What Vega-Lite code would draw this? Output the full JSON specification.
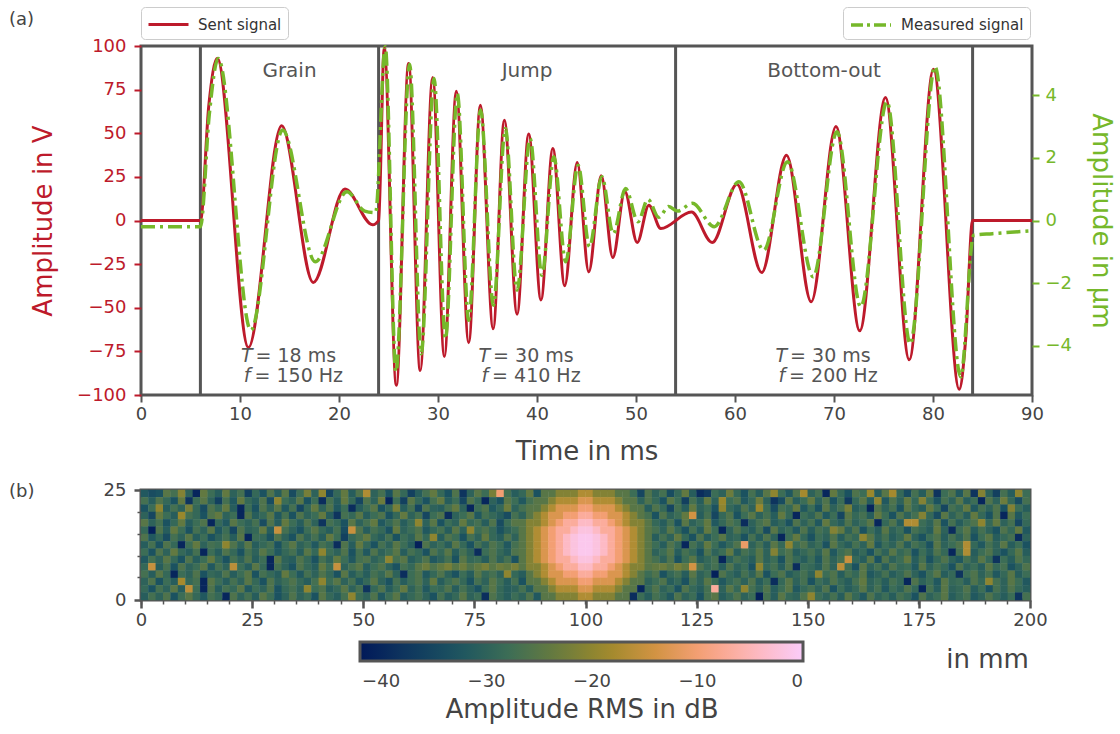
{
"$schema":"https://vega.github.io/schema/vega-lite/v6.json",
"background":"white",
"padding":{"left":7,"top":5,"right":5,"bottom":5},
"bounds":"flush",
"spacing":95,
"config":{
"font":"DejaVu Sans",
"view":{"stroke":"#555555","strokeWidth":3},
"axis":{"domain":false,"grid":false,"labelFlush":false,"labelFontSize":18,"labelColor":"#444444","titleFontSize":26,"titleFontWeight":"normal","titleColor":"#444444","tickColor":"#555555","tickWidth":2,"tickSize":7,"labelPadding":4},
"title":{"fontWeight":"normal"}
},
"datasets":{
"sent":[{"t":0,"V":0},{"t":6,"V":0},{"t":6.85,"V":66},{"t":7.7,"V":93},{"t":10.85,"V":-72.8},{"t":14.2,"V":54.3},{"t":17.4,"V":-35.5},{"t":20.6,"V":18},{"t":23.4,"V":-2.5},{"t":24,"V":0},{"t":24.57,"V":99},{"t":25.79,"V":-94.4},{"t":27.03,"V":90},{"t":28.2,"V":-86},{"t":29.46,"V":82},{"t":30.64,"V":-78},{"t":31.85,"V":74},{"t":33.1,"V":-70},{"t":34.28,"V":66},{"t":35.57,"V":-62},{"t":36.7,"V":57.5},{"t":37.99,"V":-53.7},{"t":39.16,"V":49.5},{"t":40.4,"V":-45.5},{"t":41.6,"V":41.3},{"t":42.8,"V":-37.4},{"t":44.06,"V":33.2},{"t":45.23,"V":-29.4},{"t":46.49,"V":25.6},{"t":47.66,"V":-21.2},{"t":48.87,"V":16.6},{"t":50.12,"V":-12.6},{"t":51.3,"V":8.8},{"t":52.5,"V":-4.6},{"t":55.6,"V":4.8},{"t":57.7,"V":-12.6},{"t":60.2,"V":20.8},{"t":62.7,"V":-29.8},{"t":65.2,"V":37.4},{"t":67.7,"V":-46.6},{"t":70.2,"V":53.9},{"t":72.6,"V":-63.2},{"t":75.2,"V":70.5},{"t":77.6,"V":-79.8},{"t":80.05,"V":86.7},{"t":82.65,"V":-96.7},{"t":83.3,"V":-68},{"t":84,"V":0},{"t":90,"V":0}],
"meas":[{"t":0,"u":-0.2},{"t":6,"u":-0.2},{"t":6.9,"u":3.4},{"t":7.8,"u":5.18},{"t":11.1,"u":-3.51},{"t":14.3,"u":2.89},{"t":17.6,"u":-1.32},{"t":20.8,"u":0.92},{"t":22.6,"u":0.3},{"t":23.7,"u":0.25},{"t":24.67,"u":5.56},{"t":25.75,"u":-4.84},{"t":27.13,"u":5.0},{"t":28.3,"u":-4.26},{"t":29.6,"u":4.54},{"t":30.75,"u":-3.78},{"t":31.95,"u":4.06},{"t":33.1,"u":-3.19},{"t":34.3,"u":3.53},{"t":35.6,"u":-2.71},{"t":36.8,"u":2.94},{"t":37.99,"u":-2.23},{"t":39.3,"u":2.62},{"t":40.5,"u":-1.75},{"t":41.7,"u":2.04},{"t":42.9,"u":-1.32},{"t":44.15,"u":1.77},{"t":45.3,"u":-0.84},{"t":46.55,"u":1.4},{"t":47.7,"u":-0.42},{"t":48.95,"u":1.02},{"t":50.2,"u":-0.04},{"t":51.2,"u":0.68},{"t":52.3,"u":0.1},{"t":53.3,"u":0.45},{"t":54.2,"u":0.3},{"t":55.7,"u":0.55},{"t":57.9,"u":-0.2},{"t":60.4,"u":1.24},{"t":62.9,"u":-0.95},{"t":65.3,"u":1.88},{"t":67.9,"u":-1.8},{"t":70.3,"u":2.84},{"t":72.7,"u":-2.76},{"t":75.35,"u":3.8},{"t":77.7,"u":-3.94},{"t":80.2,"u":4.92},{"t":82.8,"u":-5.0},{"t":84.1,"u":-0.47},{"t":86,"u":-0.42},{"t":90,"u":-0.33}],
"bounds":[{"t":6},{"t":24},{"t":54},{"t":84}],
"segs":[{"t":15,"label":"Grain","Tv":"= 18 ms","fv":"= 150 Hz"},{"t":39,"label":"Jump","Tv":"= 30 ms","fv":"= 410 Hz"},{"t":69,"label":"Bottom-out","Tv":"= 30 ms","fv":"= 200 Hz"}],
"cells":[
{"x":0,"y":14,"v":-32},{"x":1,"y":14,"v":-34},{"x":2,"y":14,"v":-33},{"x":3,"y":14,"v":-25},{"x":4,"y":14,"v":-27},{"x":5,"y":14,"v":-21},{"x":6,"y":14,"v":-30},{"x":7,"y":14,"v":-40},{"x":8,"y":14,"v":-24},{"x":9,"y":14,"v":-28},
{"x":10,"y":14,"v":-31},{"x":11,"y":14,"v":-24},{"x":12,"y":14,"v":-30},{"x":13,"y":14,"v":-27},{"x":14,"y":14,"v":-36},{"x":15,"y":14,"v":-29},{"x":16,"y":14,"v":-33},{"x":17,"y":14,"v":-26},{"x":18,"y":14,"v":-31},{"x":19,"y":14,"v":-25},
{"x":20,"y":14,"v":-34},{"x":21,"y":14,"v":-28},{"x":22,"y":14,"v":-22},{"x":23,"y":14,"v":-30},{"x":24,"y":14,"v":-20},{"x":25,"y":14,"v":-35},{"x":26,"y":14,"v":-29},{"x":27,"y":14,"v":-24},{"x":28,"y":14,"v":-31},{"x":29,"y":14,"v":-26},
{"x":30,"y":14,"v":-17},{"x":31,"y":14,"v":-30},{"x":32,"y":14,"v":-27},{"x":33,"y":14,"v":-33},{"x":34,"y":14,"v":-25},{"x":35,"y":14,"v":-29},{"x":36,"y":14,"v":-36},{"x":37,"y":14,"v":-31},{"x":38,"y":14,"v":-27},{"x":39,"y":14,"v":-24},
{"x":40,"y":14,"v":-29},{"x":41,"y":14,"v":-33},{"x":42,"y":14,"v":-26},{"x":43,"y":14,"v":-38},{"x":44,"y":14,"v":-30},{"x":45,"y":14,"v":-25},{"x":46,"y":14,"v":-28},{"x":47,"y":14,"v":-22},{"x":48,"y":14,"v":-10},{"x":49,"y":14,"v":-27},
{"x":50,"y":14,"v":-31},{"x":51,"y":14,"v":-29},{"x":52,"y":14,"v":-24},{"x":53,"y":14,"v":-33},{"x":54,"y":14,"v":-25},{"x":55,"y":14,"v":-25},{"x":56,"y":14,"v":-21},{"x":57,"y":14,"v":-21},{"x":58,"y":14,"v":-21},{"x":59,"y":14,"v":-17},
{"x":60,"y":14,"v":-17},{"x":61,"y":14,"v":-21},{"x":62,"y":14,"v":-21},{"x":63,"y":14,"v":-21},{"x":64,"y":14,"v":-25},{"x":65,"y":14,"v":-25},{"x":66,"y":14,"v":-28},{"x":67,"y":14,"v":-35},{"x":68,"y":14,"v":-26},{"x":69,"y":14,"v":-30},
{"x":70,"y":14,"v":-27},{"x":71,"y":14,"v":-34},{"x":72,"y":14,"v":-29},{"x":73,"y":14,"v":-24},{"x":74,"y":14,"v":-31},{"x":75,"y":14,"v":-39},{"x":76,"y":14,"v":-37},{"x":77,"y":14,"v":-28},{"x":78,"y":14,"v":-30},{"x":79,"y":14,"v":-23},
{"x":80,"y":14,"v":-29},{"x":81,"y":14,"v":-33},{"x":82,"y":14,"v":-27},{"x":83,"y":14,"v":-31},{"x":84,"y":14,"v":-25},{"x":85,"y":14,"v":-20},{"x":86,"y":14,"v":-28},{"x":87,"y":14,"v":-32},{"x":88,"y":14,"v":-26},{"x":89,"y":14,"v":-18},
{"x":90,"y":14,"v":-30},{"x":91,"y":14,"v":-27},{"x":92,"y":14,"v":-40},{"x":93,"y":14,"v":-24},{"x":94,"y":14,"v":-29},{"x":95,"y":14,"v":-33},{"x":96,"y":14,"v":-26},{"x":97,"y":14,"v":-28},{"x":98,"y":14,"v":-19},{"x":99,"y":14,"v":-31},
{"x":100,"y":14,"v":-25},{"x":101,"y":14,"v":-18},{"x":102,"y":14,"v":-29},{"x":103,"y":14,"v":-34},{"x":104,"y":14,"v":-27},{"x":105,"y":14,"v":-31},{"x":106,"y":14,"v":-24},{"x":107,"y":14,"v":-38},{"x":108,"y":14,"v":-28},{"x":109,"y":14,"v":-26},
{"x":110,"y":14,"v":-32},{"x":111,"y":14,"v":-25},{"x":112,"y":14,"v":-38},{"x":113,"y":14,"v":-21},{"x":114,"y":14,"v":-30},{"x":115,"y":14,"v":-36},{"x":116,"y":14,"v":-27},{"x":117,"y":14,"v":-31},{"x":118,"y":14,"v":-20},{"x":119,"y":14,"v":-28},
{"x":0,"y":13,"v":-27},{"x":1,"y":13,"v":-31},{"x":2,"y":13,"v":-26},{"x":3,"y":13,"v":-29},{"x":4,"y":13,"v":-33},{"x":5,"y":13,"v":-24},{"x":6,"y":13,"v":-38},{"x":7,"y":13,"v":-28},{"x":8,"y":13,"v":-25},{"x":9,"y":13,"v":-30},
{"x":10,"y":13,"v":-36},{"x":11,"y":13,"v":-27},{"x":12,"y":13,"v":-32},{"x":13,"y":13,"v":-24},{"x":14,"y":13,"v":-29},{"x":15,"y":13,"v":-31},{"x":16,"y":13,"v":-26},{"x":17,"y":13,"v":-34},{"x":18,"y":13,"v":-20},{"x":19,"y":13,"v":-28},
{"x":20,"y":13,"v":-30},{"x":21,"y":13,"v":-25},{"x":22,"y":13,"v":-33},{"x":23,"y":13,"v":-28},{"x":24,"y":13,"v":-39},{"x":25,"y":13,"v":-27},{"x":26,"y":13,"v":-31},{"x":27,"y":13,"v":-24},{"x":28,"y":13,"v":-29},{"x":29,"y":13,"v":-35},
{"x":30,"y":13,"v":-26},{"x":31,"y":13,"v":-30},{"x":32,"y":13,"v":-23},{"x":33,"y":13,"v":-40},{"x":34,"y":13,"v":-28},{"x":35,"y":13,"v":-36},{"x":36,"y":13,"v":-25},{"x":37,"y":13,"v":-29},{"x":38,"y":13,"v":-33},{"x":39,"y":13,"v":-27},
{"x":40,"y":13,"v":-24},{"x":41,"y":13,"v":-31},{"x":42,"y":13,"v":-28},{"x":43,"y":13,"v":-35},{"x":44,"y":13,"v":-26},{"x":45,"y":13,"v":-29},{"x":46,"y":13,"v":-40},{"x":47,"y":13,"v":-30},{"x":48,"y":13,"v":-33},{"x":49,"y":13,"v":-25},
{"x":50,"y":13,"v":-28},{"x":51,"y":13,"v":-32},{"x":52,"y":13,"v":-27},{"x":53,"y":13,"v":-25},{"x":54,"y":13,"v":-25},{"x":55,"y":13,"v":-21},{"x":56,"y":13,"v":-17},{"x":57,"y":13,"v":-17},{"x":58,"y":13,"v":-17},{"x":59,"y":13,"v":-13},
{"x":60,"y":13,"v":-13},{"x":61,"y":13,"v":-17},{"x":62,"y":13,"v":-17},{"x":63,"y":13,"v":-17},{"x":64,"y":13,"v":-21},{"x":65,"y":13,"v":-25},{"x":66,"y":13,"v":-25},{"x":67,"y":13,"v":-30},{"x":68,"y":13,"v":-26},{"x":69,"y":13,"v":-29},
{"x":70,"y":13,"v":-33},{"x":71,"y":13,"v":-25},{"x":72,"y":13,"v":-28},{"x":73,"y":13,"v":-36},{"x":74,"y":13,"v":-27},{"x":75,"y":13,"v":-31},{"x":76,"y":13,"v":-24},{"x":77,"y":13,"v":-30},{"x":78,"y":13,"v":-19},{"x":79,"y":13,"v":-28},
{"x":80,"y":13,"v":-26},{"x":81,"y":13,"v":-32},{"x":82,"y":13,"v":-29},{"x":83,"y":13,"v":-23},{"x":84,"y":13,"v":-30},{"x":85,"y":13,"v":-38},{"x":86,"y":13,"v":-34},{"x":87,"y":13,"v":-25},{"x":88,"y":13,"v":-31},{"x":89,"y":13,"v":-28},
{"x":90,"y":13,"v":-24},{"x":91,"y":13,"v":-30},{"x":92,"y":13,"v":-26},{"x":93,"y":13,"v":-33},{"x":94,"y":13,"v":-28},{"x":95,"y":13,"v":-37},{"x":96,"y":13,"v":-29},{"x":97,"y":13,"v":-25},{"x":98,"y":13,"v":-31},{"x":99,"y":13,"v":-20},
{"x":100,"y":13,"v":-32},{"x":101,"y":13,"v":-26},{"x":102,"y":13,"v":-30},{"x":103,"y":13,"v":-24},{"x":104,"y":13,"v":-29},{"x":105,"y":13,"v":-21},{"x":106,"y":13,"v":-28},{"x":107,"y":13,"v":-33},{"x":108,"y":13,"v":-27},{"x":109,"y":13,"v":-30},
{"x":110,"y":13,"v":-25},{"x":111,"y":13,"v":-31},{"x":112,"y":13,"v":-28},{"x":113,"y":13,"v":-40},{"x":114,"y":13,"v":-26},{"x":115,"y":13,"v":-30},{"x":116,"y":13,"v":-23},{"x":117,"y":13,"v":-29},{"x":118,"y":13,"v":-34},{"x":119,"y":13,"v":-27},
{"x":0,"y":12,"v":-33},{"x":1,"y":12,"v":-28},{"x":2,"y":12,"v":-20},{"x":3,"y":12,"v":-31},{"x":4,"y":12,"v":-27},{"x":5,"y":12,"v":-30},{"x":6,"y":12,"v":-22},{"x":7,"y":12,"v":-29},{"x":8,"y":12,"v":-34},{"x":9,"y":12,"v":-26},
{"x":10,"y":12,"v":-29},{"x":11,"y":12,"v":-24},{"x":12,"y":12,"v":-31},{"x":13,"y":12,"v":-40},{"x":14,"y":12,"v":-28},{"x":15,"y":12,"v":-33},{"x":16,"y":12,"v":-26},{"x":17,"y":12,"v":-30},{"x":18,"y":12,"v":-25},{"x":19,"y":12,"v":-32},
{"x":20,"y":12,"v":-27},{"x":21,"y":12,"v":-35},{"x":22,"y":12,"v":-29},{"x":23,"y":12,"v":-24},{"x":24,"y":12,"v":-30},{"x":25,"y":12,"v":-26},{"x":26,"y":12,"v":-32},{"x":27,"y":12,"v":-28},{"x":28,"y":12,"v":-39},{"x":29,"y":12,"v":-31},
{"x":30,"y":12,"v":-28},{"x":31,"y":12,"v":-25},{"x":32,"y":12,"v":-33},{"x":33,"y":12,"v":-29},{"x":34,"y":12,"v":-22},{"x":35,"y":12,"v":-31},{"x":36,"y":12,"v":-27},{"x":37,"y":12,"v":-35},{"x":38,"y":12,"v":-26},{"x":39,"y":12,"v":-30},
{"x":40,"y":12,"v":-31},{"x":41,"y":12,"v":-27},{"x":42,"y":12,"v":-24},{"x":43,"y":12,"v":-30},{"x":44,"y":12,"v":-40},{"x":45,"y":12,"v":-28},{"x":46,"y":12,"v":-26},{"x":47,"y":12,"v":-32},{"x":48,"y":12,"v":-29},{"x":49,"y":12,"v":-23},
{"x":50,"y":12,"v":-30},{"x":51,"y":12,"v":-27},{"x":52,"y":12,"v":-25},{"x":53,"y":12,"v":-25},{"x":54,"y":12,"v":-21},{"x":55,"y":12,"v":-17},{"x":56,"y":12,"v":-13},{"x":57,"y":12,"v":-13},{"x":58,"y":12,"v":-13},{"x":59,"y":12,"v":-10},
{"x":60,"y":12,"v":-10},{"x":61,"y":12,"v":-13},{"x":62,"y":12,"v":-13},{"x":63,"y":12,"v":-13},{"x":64,"y":12,"v":-17},{"x":65,"y":12,"v":-21},{"x":66,"y":12,"v":-25},{"x":67,"y":12,"v":-25},{"x":68,"y":12,"v":-31},{"x":69,"y":12,"v":-26},
{"x":70,"y":12,"v":-29},{"x":71,"y":12,"v":-35},{"x":72,"y":12,"v":-27},{"x":73,"y":12,"v":-31},{"x":74,"y":12,"v":-24},{"x":75,"y":12,"v":-30},{"x":76,"y":12,"v":-28},{"x":77,"y":12,"v":-33},{"x":78,"y":12,"v":-20},{"x":79,"y":12,"v":-29},
{"x":80,"y":12,"v":-31},{"x":81,"y":12,"v":-26},{"x":82,"y":12,"v":-30},{"x":83,"y":12,"v":-19},{"x":84,"y":12,"v":-28},{"x":85,"y":12,"v":-34},{"x":86,"y":12,"v":-27},{"x":87,"y":12,"v":-29},{"x":88,"y":12,"v":-24},{"x":89,"y":12,"v":-32},
{"x":90,"y":12,"v":-28},{"x":91,"y":12,"v":-33},{"x":92,"y":12,"v":-25},{"x":93,"y":12,"v":-30},{"x":94,"y":12,"v":-27},{"x":95,"y":12,"v":-22},{"x":96,"y":12,"v":-31},{"x":97,"y":12,"v":-29},{"x":98,"y":12,"v":-40},{"x":99,"y":12,"v":-26},
{"x":100,"y":12,"v":-30},{"x":101,"y":12,"v":-27},{"x":102,"y":12,"v":-33},{"x":103,"y":12,"v":-25},{"x":104,"y":12,"v":-29},{"x":105,"y":12,"v":-31},{"x":106,"y":12,"v":-24},{"x":107,"y":12,"v":-28},{"x":108,"y":12,"v":-35},{"x":109,"y":12,"v":-27},
{"x":110,"y":12,"v":-29},{"x":111,"y":12,"v":-24},{"x":112,"y":12,"v":-32},{"x":113,"y":12,"v":-27},{"x":114,"y":12,"v":-30},{"x":115,"y":12,"v":-26},{"x":116,"y":12,"v":-33},{"x":117,"y":12,"v":-21},{"x":118,"y":12,"v":-28},{"x":119,"y":12,"v":-31},
{"x":0,"y":11,"v":-30},{"x":1,"y":11,"v":-35},{"x":2,"y":11,"v":-24},{"x":3,"y":11,"v":-28},{"x":4,"y":11,"v":-31},{"x":5,"y":11,"v":-19},{"x":6,"y":11,"v":-27},{"x":7,"y":11,"v":-29},{"x":8,"y":11,"v":-33},{"x":9,"y":11,"v":-26},
{"x":10,"y":11,"v":-24},{"x":11,"y":11,"v":-30},{"x":12,"y":11,"v":-28},{"x":13,"y":11,"v":-40},{"x":14,"y":11,"v":-26},{"x":15,"y":11,"v":-31},{"x":16,"y":11,"v":-29},{"x":17,"y":11,"v":-25},{"x":18,"y":11,"v":-32},{"x":19,"y":11,"v":-27},
{"x":20,"y":11,"v":-33},{"x":21,"y":11,"v":-26},{"x":22,"y":11,"v":-30},{"x":23,"y":11,"v":-28},{"x":24,"y":11,"v":-24},{"x":25,"y":11,"v":-31},{"x":26,"y":11,"v":-38},{"x":27,"y":11,"v":-27},{"x":28,"y":11,"v":-29},{"x":29,"y":11,"v":-25},
{"x":30,"y":11,"v":-31},{"x":31,"y":11,"v":-28},{"x":32,"y":11,"v":-26},{"x":33,"y":11,"v":-33},{"x":34,"y":11,"v":-29},{"x":35,"y":11,"v":-24},{"x":36,"y":11,"v":-30},{"x":37,"y":11,"v":-27},{"x":38,"y":11,"v":-35},{"x":39,"y":11,"v":-28},
{"x":40,"y":11,"v":-26},{"x":41,"y":11,"v":-39},{"x":42,"y":11,"v":-30},{"x":43,"y":11,"v":-28},{"x":44,"y":11,"v":-25},{"x":45,"y":11,"v":-32},{"x":46,"y":11,"v":-27},{"x":47,"y":11,"v":-29},{"x":48,"y":11,"v":-31},{"x":49,"y":11,"v":-34},
{"x":50,"y":11,"v":-27},{"x":51,"y":11,"v":-30},{"x":52,"y":11,"v":-25},{"x":53,"y":11,"v":-21},{"x":54,"y":11,"v":-17},{"x":55,"y":11,"v":-13},{"x":56,"y":11,"v":-13},{"x":57,"y":11,"v":-10},{"x":58,"y":11,"v":-10},{"x":59,"y":11,"v":-7},
{"x":60,"y":11,"v":-7},{"x":61,"y":11,"v":-10},{"x":62,"y":11,"v":-10},{"x":63,"y":11,"v":-13},{"x":64,"y":11,"v":-13},{"x":65,"y":11,"v":-17},{"x":66,"y":11,"v":-21},{"x":67,"y":11,"v":-25},{"x":68,"y":11,"v":-27},{"x":69,"y":11,"v":-33},
{"x":70,"y":11,"v":-26},{"x":71,"y":11,"v":-30},{"x":72,"y":11,"v":-28},{"x":73,"y":11,"v":-24},{"x":74,"y":11,"v":-14},{"x":75,"y":11,"v":-31},{"x":76,"y":11,"v":-27},{"x":77,"y":11,"v":-35},{"x":78,"y":11,"v":-29},{"x":79,"y":11,"v":-26},
{"x":80,"y":11,"v":-33},{"x":81,"y":11,"v":-28},{"x":82,"y":11,"v":-25},{"x":83,"y":11,"v":-30},{"x":84,"y":11,"v":-27},{"x":85,"y":11,"v":-31},{"x":86,"y":11,"v":-24},{"x":87,"y":11,"v":-29},{"x":88,"y":11,"v":-40},{"x":89,"y":11,"v":-28},
{"x":90,"y":11,"v":-30},{"x":91,"y":11,"v":-26},{"x":92,"y":11,"v":-32},{"x":93,"y":11,"v":-28},{"x":94,"y":11,"v":-35},{"x":95,"y":11,"v":-25},{"x":96,"y":11,"v":-29},{"x":97,"y":11,"v":-27},{"x":98,"y":11,"v":-31},{"x":99,"y":11,"v":-24},
{"x":100,"y":11,"v":-28},{"x":101,"y":11,"v":-33},{"x":102,"y":11,"v":-26},{"x":103,"y":11,"v":-30},{"x":104,"y":11,"v":-27},{"x":105,"y":11,"v":-21},{"x":106,"y":11,"v":-29},{"x":107,"y":11,"v":-34},{"x":108,"y":11,"v":-25},{"x":109,"y":11,"v":-30},
{"x":110,"y":11,"v":-27},{"x":111,"y":11,"v":-31},{"x":112,"y":11,"v":-24},{"x":113,"y":11,"v":-29},{"x":114,"y":11,"v":-33},{"x":115,"y":11,"v":-26},{"x":116,"y":11,"v":-40},{"x":117,"y":11,"v":-25},{"x":118,"y":11,"v":-32},{"x":119,"y":11,"v":-28},
{"x":0,"y":10,"v":-25},{"x":1,"y":10,"v":-30},{"x":2,"y":10,"v":-27},{"x":3,"y":10,"v":-33},{"x":4,"y":10,"v":-29},{"x":5,"y":10,"v":-24},{"x":6,"y":10,"v":-31},{"x":7,"y":10,"v":-28},{"x":8,"y":10,"v":-26},{"x":9,"y":10,"v":-40},
{"x":10,"y":10,"v":-29},{"x":11,"y":10,"v":-32},{"x":12,"y":10,"v":-25},{"x":13,"y":10,"v":-28},{"x":14,"y":10,"v":-30},{"x":15,"y":10,"v":-27},{"x":16,"y":10,"v":-34},{"x":17,"y":10,"v":-26},{"x":18,"y":10,"v":-31},{"x":19,"y":10,"v":-24},
{"x":20,"y":10,"v":-28},{"x":21,"y":10,"v":-31},{"x":22,"y":10,"v":-26},{"x":23,"y":10,"v":-30},{"x":24,"y":10,"v":-38},{"x":25,"y":10,"v":-27},{"x":26,"y":10,"v":-29},{"x":27,"y":10,"v":-33},{"x":28,"y":10,"v":-25},{"x":29,"y":10,"v":-30},
{"x":30,"y":10,"v":-27},{"x":31,"y":10,"v":-24},{"x":32,"y":10,"v":-32},{"x":33,"y":10,"v":-29},{"x":34,"y":10,"v":-26},{"x":35,"y":10,"v":-31},{"x":36,"y":10,"v":-28},{"x":37,"y":10,"v":-20},{"x":38,"y":10,"v":-30},{"x":39,"y":10,"v":-25},
{"x":40,"y":10,"v":-33},{"x":41,"y":10,"v":-28},{"x":42,"y":10,"v":-30},{"x":43,"y":10,"v":-24},{"x":44,"y":10,"v":-29},{"x":45,"y":10,"v":-27},{"x":46,"y":10,"v":-31},{"x":47,"y":10,"v":-26},{"x":48,"y":10,"v":-34},{"x":49,"y":10,"v":-28},
{"x":50,"y":10,"v":-25},{"x":51,"y":10,"v":-25},{"x":52,"y":10,"v":-21},{"x":53,"y":10,"v":-21},{"x":54,"y":10,"v":-17},{"x":55,"y":10,"v":-13},{"x":56,"y":10,"v":-10},{"x":57,"y":10,"v":-7},{"x":58,"y":10,"v":-7},{"x":59,"y":10,"v":-4},
{"x":60,"y":10,"v":-4},{"x":61,"y":10,"v":-7},{"x":62,"y":10,"v":-7},{"x":63,"y":10,"v":-10},{"x":64,"y":10,"v":-13},{"x":65,"y":10,"v":-17},{"x":66,"y":10,"v":-21},{"x":67,"y":10,"v":-21},{"x":68,"y":10,"v":-25},{"x":69,"y":10,"v":-29},
{"x":70,"y":10,"v":-31},{"x":71,"y":10,"v":-27},{"x":72,"y":10,"v":-33},{"x":73,"y":10,"v":-25},{"x":74,"y":10,"v":-30},{"x":75,"y":10,"v":-28},{"x":76,"y":10,"v":-24},{"x":77,"y":10,"v":-32},{"x":78,"y":10,"v":-29},{"x":79,"y":10,"v":-26},
{"x":80,"y":10,"v":-28},{"x":81,"y":10,"v":-39},{"x":82,"y":10,"v":-30},{"x":83,"y":10,"v":-27},{"x":84,"y":10,"v":-25},{"x":85,"y":10,"v":-31},{"x":86,"y":10,"v":-29},{"x":87,"y":10,"v":-33},{"x":88,"y":10,"v":-26},{"x":89,"y":10,"v":-30},
{"x":90,"y":10,"v":-27},{"x":91,"y":10,"v":-32},{"x":92,"y":10,"v":-24},{"x":93,"y":10,"v":-29},{"x":94,"y":10,"v":-31},{"x":95,"y":10,"v":-26},{"x":96,"y":10,"v":-30},{"x":97,"y":10,"v":-28},{"x":98,"y":10,"v":-25},{"x":99,"y":10,"v":-40},
{"x":100,"y":10,"v":-29},{"x":101,"y":10,"v":-26},{"x":102,"y":10,"v":-31},{"x":103,"y":10,"v":-17},{"x":104,"y":10,"v":-17},{"x":105,"y":10,"v":-28},{"x":106,"y":10,"v":-30},{"x":107,"y":10,"v":-25},{"x":108,"y":10,"v":-33},{"x":109,"y":10,"v":-27},
{"x":110,"y":10,"v":-31},{"x":111,"y":10,"v":-28},{"x":112,"y":10,"v":-26},{"x":113,"y":10,"v":-20},{"x":114,"y":10,"v":-29},{"x":115,"y":10,"v":-24},{"x":116,"y":10,"v":-30},{"x":117,"y":10,"v":-27},{"x":118,"y":10,"v":-35},{"x":119,"y":10,"v":-29},
{"x":0,"y":9,"v":-29},{"x":1,"y":9,"v":-41},{"x":2,"y":9,"v":-26},{"x":3,"y":9,"v":-31},{"x":4,"y":9,"v":-24},{"x":5,"y":9,"v":-28},{"x":6,"y":9,"v":-33},{"x":7,"y":9,"v":-27},{"x":8,"y":9,"v":-30},{"x":9,"y":9,"v":-25},
{"x":10,"y":9,"v":-32},{"x":11,"y":9,"v":-28},{"x":12,"y":9,"v":-35},{"x":13,"y":9,"v":-26},{"x":14,"y":9,"v":-30},{"x":15,"y":9,"v":-29},{"x":16,"y":9,"v":-24},{"x":17,"y":9,"v":-31},{"x":18,"y":9,"v":-15},{"x":19,"y":9,"v":-27},
{"x":20,"y":9,"v":-30},{"x":21,"y":9,"v":-33},{"x":22,"y":9,"v":-28},{"x":23,"y":9,"v":-25},{"x":24,"y":9,"v":-29},{"x":25,"y":9,"v":-31},{"x":26,"y":9,"v":-27},{"x":27,"y":9,"v":-34},{"x":28,"y":9,"v":-15},{"x":29,"y":9,"v":-26},
{"x":30,"y":9,"v":-31},{"x":31,"y":9,"v":-27},{"x":32,"y":9,"v":-29},{"x":33,"y":9,"v":-33},{"x":34,"y":9,"v":-24},{"x":35,"y":9,"v":-30},{"x":36,"y":9,"v":-28},{"x":37,"y":9,"v":-26},{"x":38,"y":9,"v":-32},{"x":39,"y":9,"v":-29},
{"x":40,"y":9,"v":-27},{"x":41,"y":9,"v":-31},{"x":42,"y":9,"v":-25},{"x":43,"y":9,"v":-30},{"x":44,"y":9,"v":-20},{"x":45,"y":9,"v":-28},{"x":46,"y":9,"v":-26},{"x":47,"y":9,"v":-29},{"x":48,"y":9,"v":-33},{"x":49,"y":9,"v":-30},
{"x":50,"y":9,"v":-28},{"x":51,"y":9,"v":-25},{"x":52,"y":9,"v":-21},{"x":53,"y":9,"v":-17},{"x":54,"y":9,"v":-13},{"x":55,"y":9,"v":-10},{"x":56,"y":9,"v":-7},{"x":57,"y":9,"v":-7},{"x":58,"y":9,"v":-4},{"x":59,"y":9,"v":-2},
{"x":60,"y":9,"v":-2},{"x":61,"y":9,"v":-4},{"x":62,"y":9,"v":-7},{"x":63,"y":9,"v":-7},{"x":64,"y":9,"v":-10},{"x":65,"y":9,"v":-13},{"x":66,"y":9,"v":-17},{"x":67,"y":9,"v":-21},{"x":68,"y":9,"v":-25},{"x":69,"y":9,"v":-27},
{"x":70,"y":9,"v":-30},{"x":71,"y":9,"v":-25},{"x":72,"y":9,"v":-29},{"x":73,"y":9,"v":-33},{"x":74,"y":9,"v":-27},{"x":75,"y":9,"v":-31},{"x":76,"y":9,"v":-24},{"x":77,"y":9,"v":-28},{"x":78,"y":9,"v":-40},{"x":79,"y":9,"v":-30},
{"x":80,"y":9,"v":-26},{"x":81,"y":9,"v":-29},{"x":82,"y":9,"v":-31},{"x":83,"y":9,"v":-27},{"x":84,"y":9,"v":-34},{"x":85,"y":9,"v":-25},{"x":86,"y":9,"v":-30},{"x":87,"y":9,"v":-28},{"x":88,"y":9,"v":-32},{"x":89,"y":9,"v":-26},
{"x":90,"y":9,"v":-31},{"x":91,"y":9,"v":-27},{"x":92,"y":9,"v":-29},{"x":93,"y":9,"v":-21},{"x":94,"y":9,"v":-24},{"x":95,"y":9,"v":-30},{"x":96,"y":9,"v":-26},{"x":97,"y":9,"v":-33},{"x":98,"y":9,"v":-28},{"x":99,"y":9,"v":-31},
{"x":100,"y":9,"v":-25},{"x":101,"y":9,"v":-30},{"x":102,"y":9,"v":-28},{"x":103,"y":9,"v":-33},{"x":104,"y":9,"v":-27},{"x":105,"y":9,"v":-29},{"x":106,"y":9,"v":-31},{"x":107,"y":9,"v":-24},{"x":108,"y":9,"v":-30},{"x":109,"y":9,"v":-39},
{"x":110,"y":9,"v":-28},{"x":111,"y":9,"v":-25},{"x":112,"y":9,"v":-31},{"x":113,"y":9,"v":-27},{"x":114,"y":9,"v":-30},{"x":115,"y":9,"v":-33},{"x":116,"y":9,"v":-26},{"x":117,"y":9,"v":-29},{"x":118,"y":9,"v":-24},{"x":119,"y":9,"v":-32},
{"x":0,"y":8,"v":-26},{"x":1,"y":8,"v":-32},{"x":2,"y":8,"v":-29},{"x":3,"y":8,"v":-34},{"x":4,"y":8,"v":-27},{"x":5,"y":8,"v":-30},{"x":6,"y":8,"v":-25},{"x":7,"y":8,"v":-31},{"x":8,"y":8,"v":-28},{"x":9,"y":8,"v":-33},
{"x":10,"y":8,"v":-30},{"x":11,"y":8,"v":-27},{"x":12,"y":8,"v":-31},{"x":13,"y":8,"v":-25},{"x":14,"y":8,"v":-40},{"x":15,"y":8,"v":-28},{"x":16,"y":8,"v":-29},{"x":17,"y":8,"v":-33},{"x":18,"y":8,"v":-26},{"x":19,"y":8,"v":-30},
{"x":20,"y":8,"v":-33},{"x":21,"y":8,"v":-26},{"x":22,"y":8,"v":-30},{"x":23,"y":8,"v":-27},{"x":24,"y":8,"v":-31},{"x":25,"y":8,"v":-24},{"x":26,"y":8,"v":-28},{"x":27,"y":8,"v":-36},{"x":28,"y":8,"v":-29},{"x":29,"y":8,"v":-27},
{"x":30,"y":8,"v":-24},{"x":31,"y":8,"v":-29},{"x":32,"y":8,"v":-31},{"x":33,"y":8,"v":-27},{"x":34,"y":8,"v":-33},{"x":35,"y":8,"v":-28},{"x":36,"y":8,"v":-30},{"x":37,"y":8,"v":-25},{"x":38,"y":8,"v":-29},{"x":39,"y":8,"v":-20},
{"x":40,"y":8,"v":-31},{"x":41,"y":8,"v":-26},{"x":42,"y":8,"v":-28},{"x":43,"y":8,"v":-33},{"x":44,"y":8,"v":-27},{"x":45,"y":8,"v":-30},{"x":46,"y":8,"v":-24},{"x":47,"y":8,"v":-29},{"x":48,"y":8,"v":-31},{"x":49,"y":8,"v":-26},
{"x":50,"y":8,"v":-30},{"x":51,"y":8,"v":-25},{"x":52,"y":8,"v":-21},{"x":53,"y":8,"v":-17},{"x":54,"y":8,"v":-13},{"x":55,"y":8,"v":-10},{"x":56,"y":8,"v":-7},{"x":57,"y":8,"v":-4},{"x":58,"y":8,"v":-2},{"x":59,"y":8,"v":-1},
{"x":60,"y":8,"v":-1},{"x":61,"y":8,"v":-2},{"x":62,"y":8,"v":-4},{"x":63,"y":8,"v":-7},{"x":64,"y":8,"v":-10},{"x":65,"y":8,"v":-13},{"x":66,"y":8,"v":-17},{"x":67,"y":8,"v":-21},{"x":68,"y":8,"v":-25},{"x":69,"y":8,"v":-31},
{"x":70,"y":8,"v":-27},{"x":71,"y":8,"v":-30},{"x":72,"y":8,"v":-24},{"x":73,"y":8,"v":-29},{"x":74,"y":8,"v":-33},{"x":75,"y":8,"v":-26},{"x":76,"y":8,"v":-31},{"x":77,"y":8,"v":-28},{"x":78,"y":8,"v":-25},{"x":79,"y":8,"v":-30},
{"x":80,"y":8,"v":-29},{"x":81,"y":8,"v":-33},{"x":82,"y":8,"v":-27},{"x":83,"y":8,"v":-31},{"x":84,"y":8,"v":-26},{"x":85,"y":8,"v":-30},{"x":86,"y":8,"v":-40},{"x":87,"y":8,"v":-28},{"x":88,"y":8,"v":-24},{"x":89,"y":8,"v":-29},
{"x":90,"y":8,"v":-33},{"x":91,"y":8,"v":-28},{"x":92,"y":8,"v":-30},{"x":93,"y":8,"v":-26},{"x":94,"y":8,"v":-31},{"x":95,"y":8,"v":-27},{"x":96,"y":8,"v":-29},{"x":97,"y":8,"v":-20},{"x":98,"y":8,"v":-25},{"x":99,"y":8,"v":-30},
{"x":100,"y":8,"v":-27},{"x":101,"y":8,"v":-31},{"x":102,"y":8,"v":-29},{"x":103,"y":8,"v":-24},{"x":104,"y":8,"v":-30},{"x":105,"y":8,"v":-33},{"x":106,"y":8,"v":-28},{"x":107,"y":8,"v":-26},{"x":108,"y":8,"v":-31},{"x":109,"y":8,"v":-27},
{"x":110,"y":8,"v":-30},{"x":111,"y":8,"v":-26},{"x":112,"y":8,"v":-33},{"x":113,"y":8,"v":-28},{"x":114,"y":8,"v":-25},{"x":115,"y":8,"v":-31},{"x":116,"y":8,"v":-29},{"x":117,"y":8,"v":-27},{"x":118,"y":8,"v":-39},{"x":119,"y":8,"v":-30},
{"x":0,"y":7,"v":-31},{"x":1,"y":7,"v":-27},{"x":2,"y":7,"v":-33},{"x":3,"y":7,"v":-26},{"x":4,"y":7,"v":-29},{"x":5,"y":7,"v":-40},{"x":6,"y":7,"v":-28},{"x":7,"y":7,"v":-24},{"x":8,"y":7,"v":-30},{"x":9,"y":7,"v":-27},
{"x":10,"y":7,"v":-28},{"x":11,"y":7,"v":-20},{"x":12,"y":7,"v":-26},{"x":13,"y":7,"v":-30},{"x":14,"y":7,"v":-25},{"x":15,"y":7,"v":-31},{"x":16,"y":7,"v":-29},{"x":17,"y":7,"v":-27},{"x":18,"y":7,"v":-33},{"x":19,"y":7,"v":-28},
{"x":20,"y":7,"v":-25},{"x":21,"y":7,"v":-30},{"x":22,"y":7,"v":-28},{"x":23,"y":7,"v":-32},{"x":24,"y":7,"v":-27},{"x":25,"y":7,"v":-29},{"x":26,"y":7,"v":-39},{"x":27,"y":7,"v":-26},{"x":28,"y":7,"v":-31},{"x":29,"y":7,"v":-24},
{"x":30,"y":7,"v":-29},{"x":31,"y":7,"v":-33},{"x":32,"y":7,"v":-27},{"x":33,"y":7,"v":-30},{"x":34,"y":7,"v":-25},{"x":35,"y":7,"v":-28},{"x":36,"y":7,"v":-31},{"x":37,"y":7,"v":-41},{"x":38,"y":7,"v":-26},{"x":39,"y":7,"v":-30},
{"x":40,"y":7,"v":-28},{"x":41,"y":7,"v":-31},{"x":42,"y":7,"v":-25},{"x":43,"y":7,"v":-29},{"x":44,"y":7,"v":-33},{"x":45,"y":7,"v":-27},{"x":46,"y":7,"v":-30},{"x":47,"y":7,"v":-26},{"x":48,"y":7,"v":-28},{"x":49,"y":7,"v":-32},
{"x":50,"y":7,"v":-27},{"x":51,"y":7,"v":-25},{"x":52,"y":7,"v":-21},{"x":53,"y":7,"v":-17},{"x":54,"y":7,"v":-13},{"x":55,"y":7,"v":-10},{"x":56,"y":7,"v":-7},{"x":57,"y":7,"v":-4},{"x":58,"y":7,"v":-2},{"x":59,"y":7,"v":-1},
{"x":60,"y":7,"v":-1},{"x":61,"y":7,"v":-2},{"x":62,"y":7,"v":-4},{"x":63,"y":7,"v":-7},{"x":64,"y":7,"v":-10},{"x":65,"y":7,"v":-13},{"x":66,"y":7,"v":-17},{"x":67,"y":7,"v":-21},{"x":68,"y":7,"v":-25},{"x":69,"y":7,"v":-28},
{"x":70,"y":7,"v":-31},{"x":71,"y":7,"v":-26},{"x":72,"y":7,"v":-29},{"x":73,"y":7,"v":-40},{"x":74,"y":7,"v":-27},{"x":75,"y":7,"v":-30},{"x":76,"y":7,"v":-24},{"x":77,"y":7,"v":-28},{"x":78,"y":7,"v":-32},{"x":79,"y":7,"v":-29},
{"x":80,"y":7,"v":-26},{"x":81,"y":7,"v":-11},{"x":82,"y":7,"v":-30},{"x":83,"y":7,"v":-27},{"x":84,"y":7,"v":-31},{"x":85,"y":7,"v":-25},{"x":86,"y":7,"v":-29},{"x":87,"y":7,"v":-20},{"x":88,"y":7,"v":-28},{"x":89,"y":7,"v":-26},
{"x":90,"y":7,"v":-30},{"x":91,"y":7,"v":-28},{"x":92,"y":7,"v":-33},{"x":93,"y":7,"v":-25},{"x":94,"y":7,"v":-29},{"x":95,"y":7,"v":-31},{"x":96,"y":7,"v":-27},{"x":97,"y":7,"v":-30},{"x":98,"y":7,"v":-24},{"x":99,"y":7,"v":-32},
{"x":100,"y":7,"v":-28},{"x":101,"y":7,"v":-30},{"x":102,"y":7,"v":-26},{"x":103,"y":7,"v":-31},{"x":104,"y":7,"v":-27},{"x":105,"y":7,"v":-29},{"x":106,"y":7,"v":-33},{"x":107,"y":7,"v":-25},{"x":108,"y":7,"v":-30},{"x":109,"y":7,"v":-28},
{"x":110,"y":7,"v":-26},{"x":111,"y":7,"v":-17},{"x":112,"y":7,"v":-29},{"x":113,"y":7,"v":-32},{"x":114,"y":7,"v":-27},{"x":115,"y":7,"v":-30},{"x":116,"y":7,"v":-25},{"x":117,"y":7,"v":-31},{"x":118,"y":7,"v":-28},{"x":119,"y":7,"v":-33},
{"x":0,"y":6,"v":-28},{"x":1,"y":6,"v":-33},{"x":2,"y":6,"v":-26},{"x":3,"y":6,"v":-30},{"x":4,"y":6,"v":-24},{"x":5,"y":6,"v":-29},{"x":6,"y":6,"v":-31},{"x":7,"y":6,"v":-27},{"x":8,"y":6,"v":-40},{"x":9,"y":6,"v":-28},
{"x":10,"y":6,"v":-31},{"x":11,"y":6,"v":-26},{"x":12,"y":6,"v":-29},{"x":13,"y":6,"v":-33},{"x":14,"y":6,"v":-27},{"x":15,"y":6,"v":-30},{"x":16,"y":6,"v":-25},{"x":17,"y":6,"v":-28},{"x":18,"y":6,"v":-32},{"x":19,"y":6,"v":-29},
{"x":20,"y":6,"v":-27},{"x":21,"y":6,"v":-31},{"x":22,"y":6,"v":-25},{"x":23,"y":6,"v":-29},{"x":24,"y":6,"v":-20},{"x":25,"y":6,"v":-28},{"x":26,"y":6,"v":-30},{"x":27,"y":6,"v":-26},{"x":28,"y":6,"v":-33},{"x":29,"y":6,"v":-27},
{"x":30,"y":6,"v":-32},{"x":31,"y":6,"v":-26},{"x":32,"y":6,"v":-30},{"x":33,"y":6,"v":-28},{"x":34,"y":6,"v":-25},{"x":35,"y":6,"v":-31},{"x":36,"y":6,"v":-27},{"x":37,"y":6,"v":-29},{"x":38,"y":6,"v":-33},{"x":39,"y":6,"v":-26},
{"x":40,"y":6,"v":-29},{"x":41,"y":6,"v":-25},{"x":42,"y":6,"v":-31},{"x":43,"y":6,"v":-27},{"x":44,"y":6,"v":-30},{"x":45,"y":6,"v":-39},{"x":46,"y":6,"v":-28},{"x":47,"y":6,"v":-26},{"x":48,"y":6,"v":-29},{"x":49,"y":6,"v":-31},
{"x":50,"y":6,"v":-26},{"x":51,"y":6,"v":-25},{"x":52,"y":6,"v":-21},{"x":53,"y":6,"v":-17},{"x":54,"y":6,"v":-13},{"x":55,"y":6,"v":-10},{"x":56,"y":6,"v":-7},{"x":57,"y":6,"v":-4},{"x":58,"y":6,"v":-2},{"x":59,"y":6,"v":-1},
{"x":60,"y":6,"v":-1},{"x":61,"y":6,"v":-2},{"x":62,"y":6,"v":-4},{"x":63,"y":6,"v":-7},{"x":64,"y":6,"v":-10},{"x":65,"y":6,"v":-13},{"x":66,"y":6,"v":-17},{"x":67,"y":6,"v":-21},{"x":68,"y":6,"v":-25},{"x":69,"y":6,"v":-30},
{"x":70,"y":6,"v":-28},{"x":71,"y":6,"v":-25},{"x":72,"y":6,"v":-31},{"x":73,"y":6,"v":-27},{"x":74,"y":6,"v":-29},{"x":75,"y":6,"v":-33},{"x":76,"y":6,"v":-26},{"x":77,"y":6,"v":-30},{"x":78,"y":6,"v":-28},{"x":79,"y":6,"v":-24},
{"x":80,"y":6,"v":-31},{"x":81,"y":6,"v":-27},{"x":82,"y":6,"v":-29},{"x":83,"y":6,"v":-25},{"x":84,"y":6,"v":-30},{"x":85,"y":6,"v":-21},{"x":86,"y":6,"v":-28},{"x":87,"y":6,"v":-26},{"x":88,"y":6,"v":-31},{"x":89,"y":6,"v":-29},
{"x":90,"y":6,"v":-27},{"x":91,"y":6,"v":-30},{"x":92,"y":6,"v":-25},{"x":93,"y":6,"v":-32},{"x":94,"y":6,"v":-28},{"x":95,"y":6,"v":-26},{"x":96,"y":6,"v":-31},{"x":97,"y":6,"v":-29},{"x":98,"y":6,"v":-33},{"x":99,"y":6,"v":-27},
{"x":100,"y":6,"v":-30},{"x":101,"y":6,"v":-25},{"x":102,"y":6,"v":-29},{"x":103,"y":6,"v":-27},{"x":104,"y":6,"v":-33},{"x":105,"y":6,"v":-28},{"x":106,"y":6,"v":-31},{"x":107,"y":6,"v":-26},{"x":108,"y":6,"v":-29},{"x":109,"y":6,"v":-40},
{"x":110,"y":6,"v":-27},{"x":111,"y":6,"v":-17},{"x":112,"y":6,"v":-31},{"x":113,"y":6,"v":-28},{"x":114,"y":6,"v":-26},{"x":115,"y":6,"v":-30},{"x":116,"y":6,"v":-33},{"x":117,"y":6,"v":-29},{"x":118,"y":6,"v":-25},{"x":119,"y":6,"v":-31},
{"x":0,"y":5,"v":-32},{"x":1,"y":5,"v":-27},{"x":2,"y":5,"v":-30},{"x":3,"y":5,"v":-25},{"x":4,"y":5,"v":-29},{"x":5,"y":5,"v":-33},{"x":6,"y":5,"v":-26},{"x":7,"y":5,"v":-31},{"x":8,"y":5,"v":-28},{"x":9,"y":5,"v":-24},
{"x":10,"y":5,"v":-29},{"x":11,"y":5,"v":-33},{"x":12,"y":5,"v":-27},{"x":13,"y":5,"v":-30},{"x":14,"y":5,"v":-26},{"x":15,"y":5,"v":-31},{"x":16,"y":5,"v":-28},{"x":17,"y":5,"v":-40},{"x":18,"y":5,"v":-25},{"x":19,"y":5,"v":-30},
{"x":20,"y":5,"v":-31},{"x":21,"y":5,"v":-26},{"x":22,"y":5,"v":-29},{"x":23,"y":5,"v":-33},{"x":24,"y":5,"v":-27},{"x":25,"y":5,"v":-30},{"x":26,"y":5,"v":-24},{"x":27,"y":5,"v":-28},{"x":28,"y":5,"v":-32},{"x":29,"y":5,"v":-27},
{"x":30,"y":5,"v":-26},{"x":31,"y":5,"v":-30},{"x":32,"y":5,"v":-28},{"x":33,"y":5,"v":-20},{"x":34,"y":5,"v":-27},{"x":35,"y":5,"v":-25},{"x":36,"y":5,"v":-31},{"x":37,"y":5,"v":-29},{"x":38,"y":5,"v":-26},{"x":39,"y":5,"v":-32},
{"x":40,"y":5,"v":-30},{"x":41,"y":5,"v":-27},{"x":42,"y":5,"v":-33},{"x":43,"y":5,"v":-25},{"x":44,"y":5,"v":-29},{"x":45,"y":5,"v":-28},{"x":46,"y":5,"v":-31},{"x":47,"y":5,"v":-26},{"x":48,"y":5,"v":-30},{"x":49,"y":5,"v":-27},
{"x":50,"y":5,"v":-33},{"x":51,"y":5,"v":-25},{"x":52,"y":5,"v":-21},{"x":53,"y":5,"v":-17},{"x":54,"y":5,"v":-13},{"x":55,"y":5,"v":-10},{"x":56,"y":5,"v":-7},{"x":57,"y":5,"v":-7},{"x":58,"y":5,"v":-4},{"x":59,"y":5,"v":-2},
{"x":60,"y":5,"v":-2},{"x":61,"y":5,"v":-4},{"x":62,"y":5,"v":-7},{"x":63,"y":5,"v":-7},{"x":64,"y":5,"v":-10},{"x":65,"y":5,"v":-13},{"x":66,"y":5,"v":-17},{"x":67,"y":5,"v":-21},{"x":68,"y":5,"v":-25},{"x":69,"y":5,"v":-27},
{"x":70,"y":5,"v":-30},{"x":71,"y":5,"v":-26},{"x":72,"y":5,"v":-33},{"x":73,"y":5,"v":-28},{"x":74,"y":5,"v":-25},{"x":75,"y":5,"v":-31},{"x":76,"y":5,"v":-29},{"x":77,"y":5,"v":-27},{"x":78,"y":5,"v":-40},{"x":79,"y":5,"v":-30},
{"x":80,"y":5,"v":-27},{"x":81,"y":5,"v":-29},{"x":82,"y":5,"v":-31},{"x":83,"y":5,"v":-25},{"x":84,"y":5,"v":-30},{"x":85,"y":5,"v":-28},{"x":86,"y":5,"v":-33},{"x":87,"y":5,"v":-26},{"x":88,"y":5,"v":-29},{"x":89,"y":5,"v":-31},
{"x":90,"y":5,"v":-28},{"x":91,"y":5,"v":-32},{"x":92,"y":5,"v":-26},{"x":93,"y":5,"v":-30},{"x":94,"y":5,"v":-27},{"x":95,"y":5,"v":-15},{"x":96,"y":5,"v":-29},{"x":97,"y":5,"v":-31},{"x":98,"y":5,"v":-25},{"x":99,"y":5,"v":-33},
{"x":100,"y":5,"v":-26},{"x":101,"y":5,"v":-30},{"x":102,"y":5,"v":-28},{"x":103,"y":5,"v":-24},{"x":104,"y":5,"v":-31},{"x":105,"y":5,"v":-27},{"x":106,"y":5,"v":-33},{"x":107,"y":5,"v":-29},{"x":108,"y":5,"v":-26},{"x":109,"y":5,"v":-30},
{"x":110,"y":5,"v":-32},{"x":111,"y":5,"v":-27},{"x":112,"y":5,"v":-30},{"x":113,"y":5,"v":-25},{"x":114,"y":5,"v":-29},{"x":115,"y":5,"v":-38},{"x":116,"y":5,"v":-28},{"x":117,"y":5,"v":-31},{"x":118,"y":5,"v":-26},{"x":119,"y":5,"v":-29},
{"x":0,"y":4,"v":-29},{"x":1,"y":4,"v":-15},{"x":2,"y":4,"v":-31},{"x":3,"y":4,"v":-27},{"x":4,"y":4,"v":-33},{"x":5,"y":4,"v":-26},{"x":6,"y":4,"v":-30},{"x":7,"y":4,"v":-28},{"x":8,"y":4,"v":-25},{"x":9,"y":4,"v":-32},
{"x":10,"y":4,"v":-27},{"x":11,"y":4,"v":-30},{"x":12,"y":4,"v":-16},{"x":13,"y":4,"v":-28},{"x":14,"y":4,"v":-31},{"x":15,"y":4,"v":-25},{"x":16,"y":4,"v":-29},{"x":17,"y":4,"v":-40},{"x":18,"y":4,"v":-27},{"x":19,"y":4,"v":-30},
{"x":20,"y":4,"v":-33},{"x":21,"y":4,"v":-26},{"x":22,"y":4,"v":-29},{"x":23,"y":4,"v":-31},{"x":24,"y":4,"v":-24},{"x":25,"y":4,"v":-28},{"x":26,"y":4,"v":-15},{"x":27,"y":4,"v":-30},{"x":28,"y":4,"v":-27},{"x":29,"y":4,"v":-25},
{"x":30,"y":4,"v":-31},{"x":31,"y":4,"v":-28},{"x":32,"y":4,"v":-26},{"x":33,"y":4,"v":-30},{"x":34,"y":4,"v":-33},{"x":35,"y":4,"v":-27},{"x":36,"y":4,"v":-29},{"x":37,"y":4,"v":-25},{"x":38,"y":4,"v":-23},{"x":39,"y":4,"v":-26},
{"x":40,"y":4,"v":-24},{"x":41,"y":4,"v":-22},{"x":42,"y":4,"v":-25},{"x":43,"y":4,"v":-23},{"x":44,"y":4,"v":-26},{"x":45,"y":4,"v":-24},{"x":46,"y":4,"v":-22},{"x":47,"y":4,"v":-25},{"x":48,"y":4,"v":-23},{"x":49,"y":4,"v":-24},
{"x":50,"y":4,"v":-22},{"x":51,"y":4,"v":-25},{"x":52,"y":4,"v":-21},{"x":53,"y":4,"v":-21},{"x":54,"y":4,"v":-17},{"x":55,"y":4,"v":-13},{"x":56,"y":4,"v":-10},{"x":57,"y":4,"v":-7},{"x":58,"y":4,"v":-7},{"x":59,"y":4,"v":-4},
{"x":60,"y":4,"v":-4},{"x":61,"y":4,"v":-7},{"x":62,"y":4,"v":-7},{"x":63,"y":4,"v":-10},{"x":64,"y":4,"v":-13},{"x":65,"y":4,"v":-17},{"x":66,"y":4,"v":-21},{"x":67,"y":4,"v":-21},{"x":68,"y":4,"v":-25},{"x":69,"y":4,"v":-24},
{"x":70,"y":4,"v":-23},{"x":71,"y":4,"v":-25},{"x":72,"y":4,"v":-22},{"x":73,"y":4,"v":-24},{"x":74,"y":4,"v":-14},{"x":75,"y":4,"v":-26},{"x":76,"y":4,"v":-29},{"x":77,"y":4,"v":-27},{"x":78,"y":4,"v":-31},{"x":79,"y":4,"v":-26},
{"x":80,"y":4,"v":-30},{"x":81,"y":4,"v":-28},{"x":82,"y":4,"v":-33},{"x":83,"y":4,"v":-20},{"x":84,"y":4,"v":-29},{"x":85,"y":4,"v":-27},{"x":86,"y":4,"v":-31},{"x":87,"y":4,"v":-26},{"x":88,"y":4,"v":-39},{"x":89,"y":4,"v":-28},
{"x":90,"y":4,"v":-29},{"x":91,"y":4,"v":-31},{"x":92,"y":4,"v":-26},{"x":93,"y":4,"v":-30},{"x":94,"y":4,"v":-16},{"x":95,"y":4,"v":-28},{"x":96,"y":4,"v":-33},{"x":97,"y":4,"v":-25},{"x":98,"y":4,"v":-30},{"x":99,"y":4,"v":-27},
{"x":100,"y":4,"v":-31},{"x":101,"y":4,"v":-26},{"x":102,"y":4,"v":-29},{"x":103,"y":4,"v":-28},{"x":104,"y":4,"v":-32},{"x":105,"y":4,"v":-25},{"x":106,"y":4,"v":-30},{"x":107,"y":4,"v":-27},{"x":108,"y":4,"v":-29},{"x":109,"y":4,"v":-33},
{"x":110,"y":4,"v":-26},{"x":111,"y":4,"v":-30},{"x":112,"y":4,"v":-28},{"x":113,"y":4,"v":-31},{"x":114,"y":4,"v":-25},{"x":115,"y":4,"v":-29},{"x":116,"y":4,"v":-27},{"x":117,"y":4,"v":-33},{"x":118,"y":4,"v":-30},{"x":119,"y":4,"v":-26},
{"x":0,"y":3,"v":-27},{"x":1,"y":3,"v":-31},{"x":2,"y":3,"v":-25},{"x":3,"y":3,"v":-29},{"x":4,"y":3,"v":-40},{"x":5,"y":3,"v":-28},{"x":6,"y":3,"v":-30},{"x":7,"y":3,"v":-26},{"x":8,"y":3,"v":-33},{"x":9,"y":3,"v":-29},
{"x":10,"y":3,"v":-30},{"x":11,"y":3,"v":-26},{"x":12,"y":3,"v":-31},{"x":13,"y":3,"v":-28},{"x":14,"y":3,"v":-25},{"x":15,"y":3,"v":-33},{"x":16,"y":3,"v":-27},{"x":17,"y":3,"v":-29},{"x":18,"y":3,"v":-31},{"x":19,"y":3,"v":-24},
{"x":20,"y":3,"v":-28},{"x":21,"y":3,"v":-32},{"x":22,"y":3,"v":-27},{"x":23,"y":3,"v":-30},{"x":24,"y":3,"v":-26},{"x":25,"y":3,"v":-29},{"x":26,"y":3,"v":-33},{"x":27,"y":3,"v":-25},{"x":28,"y":3,"v":-31},{"x":29,"y":3,"v":-28},
{"x":30,"y":3,"v":-31},{"x":31,"y":3,"v":-27},{"x":32,"y":3,"v":-29},{"x":33,"y":3,"v":-25},{"x":34,"y":3,"v":-30},{"x":35,"y":3,"v":-39},{"x":36,"y":3,"v":-28},{"x":37,"y":3,"v":-26},{"x":38,"y":3,"v":-32},{"x":39,"y":3,"v":-29},
{"x":40,"y":3,"v":-26},{"x":41,"y":3,"v":-30},{"x":42,"y":3,"v":-33},{"x":43,"y":3,"v":-28},{"x":44,"y":3,"v":-31},{"x":45,"y":3,"v":-25},{"x":46,"y":3,"v":-29},{"x":47,"y":3,"v":-27},{"x":48,"y":3,"v":-30},{"x":49,"y":3,"v":-20},
{"x":50,"y":3,"v":-29},{"x":51,"y":3,"v":-31},{"x":52,"y":3,"v":-25},{"x":53,"y":3,"v":-21},{"x":54,"y":3,"v":-17},{"x":55,"y":3,"v":-13},{"x":56,"y":3,"v":-13},{"x":57,"y":3,"v":-10},{"x":58,"y":3,"v":-10},{"x":59,"y":3,"v":-7},
{"x":60,"y":3,"v":-7},{"x":61,"y":3,"v":-10},{"x":62,"y":3,"v":-10},{"x":63,"y":3,"v":-13},{"x":64,"y":3,"v":-13},{"x":65,"y":3,"v":-17},{"x":66,"y":3,"v":-21},{"x":67,"y":3,"v":-25},{"x":68,"y":3,"v":-28},{"x":69,"y":3,"v":-26},
{"x":70,"y":3,"v":-33},{"x":71,"y":3,"v":-29},{"x":72,"y":3,"v":-27},{"x":73,"y":3,"v":-31},{"x":74,"y":3,"v":-25},{"x":75,"y":3,"v":-30},{"x":76,"y":3,"v":-28},{"x":77,"y":3,"v":-41},{"x":78,"y":3,"v":-26},{"x":79,"y":3,"v":-29},
{"x":80,"y":3,"v":-31},{"x":81,"y":3,"v":-27},{"x":82,"y":3,"v":-30},{"x":83,"y":3,"v":-25},{"x":84,"y":3,"v":-33},{"x":85,"y":3,"v":-28},{"x":86,"y":3,"v":-26},{"x":87,"y":3,"v":-31},{"x":88,"y":3,"v":-29},{"x":89,"y":3,"v":-27},
{"x":90,"y":3,"v":-30},{"x":91,"y":3,"v":-20},{"x":92,"y":3,"v":-28},{"x":93,"y":3,"v":-26},{"x":94,"y":3,"v":-31},{"x":95,"y":3,"v":-27},{"x":96,"y":3,"v":-29},{"x":97,"y":3,"v":-25},{"x":98,"y":3,"v":-32},{"x":99,"y":3,"v":-30},
{"x":100,"y":3,"v":-27},{"x":101,"y":3,"v":-31},{"x":102,"y":3,"v":-29},{"x":103,"y":3,"v":-26},{"x":104,"y":3,"v":-30},{"x":105,"y":3,"v":-33},{"x":106,"y":3,"v":-28},{"x":107,"y":3,"v":-25},{"x":108,"y":3,"v":-31},{"x":109,"y":3,"v":-29},
{"x":110,"y":3,"v":-38},{"x":111,"y":3,"v":-28},{"x":112,"y":3,"v":-26},{"x":113,"y":3,"v":-30},{"x":114,"y":3,"v":-27},{"x":115,"y":3,"v":-32},{"x":116,"y":3,"v":-29},{"x":117,"y":3,"v":-25},{"x":118,"y":3,"v":-31},{"x":119,"y":3,"v":-28},
{"x":0,"y":2,"v":-30},{"x":1,"y":2,"v":-26},{"x":2,"y":2,"v":-33},{"x":3,"y":2,"v":-28},{"x":4,"y":2,"v":-31},{"x":5,"y":2,"v":-18},{"x":6,"y":2,"v":-29},{"x":7,"y":2,"v":-27},{"x":8,"y":2,"v":-40},{"x":9,"y":2,"v":-25},
{"x":10,"y":2,"v":-28},{"x":11,"y":2,"v":-31},{"x":12,"y":2,"v":-27},{"x":13,"y":2,"v":-30},{"x":14,"y":2,"v":-25},{"x":15,"y":2,"v":-29},{"x":16,"y":2,"v":-33},{"x":17,"y":2,"v":-26},{"x":18,"y":2,"v":-30},{"x":19,"y":2,"v":-28},
{"x":20,"y":2,"v":-26},{"x":21,"y":2,"v":-29},{"x":22,"y":2,"v":-31},{"x":23,"y":2,"v":-27},{"x":24,"y":2,"v":-20},{"x":25,"y":2,"v":-28},{"x":26,"y":2,"v":-25},{"x":27,"y":2,"v":-30},{"x":28,"y":2,"v":-27},{"x":29,"y":2,"v":-32},
{"x":30,"y":2,"v":-29},{"x":31,"y":2,"v":-25},{"x":32,"y":2,"v":-30},{"x":33,"y":2,"v":-33},{"x":34,"y":2,"v":-27},{"x":35,"y":2,"v":-31},{"x":36,"y":2,"v":-28},{"x":37,"y":2,"v":-26},{"x":38,"y":2,"v":-30},{"x":39,"y":2,"v":-24},
{"x":40,"y":2,"v":-31},{"x":41,"y":2,"v":-28},{"x":42,"y":2,"v":-26},{"x":43,"y":2,"v":-29},{"x":44,"y":2,"v":-33},{"x":45,"y":2,"v":-27},{"x":46,"y":2,"v":-30},{"x":47,"y":2,"v":-25},{"x":48,"y":2,"v":-28},{"x":49,"y":2,"v":-31},
{"x":50,"y":2,"v":-27},{"x":51,"y":2,"v":-33},{"x":52,"y":2,"v":-25},{"x":53,"y":2,"v":-25},{"x":54,"y":2,"v":-21},{"x":55,"y":2,"v":-17},{"x":56,"y":2,"v":-13},{"x":57,"y":2,"v":-13},{"x":58,"y":2,"v":-13},{"x":59,"y":2,"v":-10},
{"x":60,"y":2,"v":-10},{"x":61,"y":2,"v":-13},{"x":62,"y":2,"v":-13},{"x":63,"y":2,"v":-13},{"x":64,"y":2,"v":-17},{"x":65,"y":2,"v":-21},{"x":66,"y":2,"v":-25},{"x":67,"y":2,"v":-25},{"x":68,"y":2,"v":-30},{"x":69,"y":2,"v":-28},
{"x":70,"y":2,"v":-26},{"x":71,"y":2,"v":-31},{"x":72,"y":2,"v":-29},{"x":73,"y":2,"v":-33},{"x":74,"y":2,"v":-27},{"x":75,"y":2,"v":-30},{"x":76,"y":2,"v":-25},{"x":77,"y":2,"v":-28},{"x":78,"y":2,"v":-32},{"x":79,"y":2,"v":-29},
{"x":80,"y":2,"v":-27},{"x":81,"y":2,"v":-30},{"x":82,"y":2,"v":-26},{"x":83,"y":2,"v":-31},{"x":84,"y":2,"v":-28},{"x":85,"y":2,"v":-39},{"x":86,"y":2,"v":-29},{"x":87,"y":2,"v":-25},{"x":88,"y":2,"v":-30},{"x":89,"y":2,"v":-27},
{"x":90,"y":2,"v":-33},{"x":91,"y":2,"v":-28},{"x":92,"y":2,"v":-30},{"x":93,"y":2,"v":-26},{"x":94,"y":2,"v":-29},{"x":95,"y":2,"v":-31},{"x":96,"y":2,"v":-27},{"x":97,"y":2,"v":-24},{"x":98,"y":2,"v":-30},{"x":99,"y":2,"v":-28},
{"x":100,"y":2,"v":-31},{"x":101,"y":2,"v":-27},{"x":102,"y":2,"v":-29},{"x":103,"y":2,"v":-40},{"x":104,"y":2,"v":-26},{"x":105,"y":2,"v":-30},{"x":106,"y":2,"v":-28},{"x":107,"y":2,"v":-32},{"x":108,"y":2,"v":-25},{"x":109,"y":2,"v":-29},
{"x":110,"y":2,"v":-28},{"x":111,"y":2,"v":-31},{"x":112,"y":2,"v":-26},{"x":113,"y":2,"v":-29},{"x":114,"y":2,"v":-20},{"x":115,"y":2,"v":-27},{"x":116,"y":2,"v":-30},{"x":117,"y":2,"v":-25},{"x":118,"y":2,"v":-28},{"x":119,"y":2,"v":-32},
{"x":0,"y":1,"v":-29},{"x":1,"y":1,"v":-33},{"x":2,"y":1,"v":-27},{"x":3,"y":1,"v":-30},{"x":4,"y":1,"v":-25},{"x":5,"y":1,"v":-31},{"x":6,"y":1,"v":-16},{"x":7,"y":1,"v":-28},{"x":8,"y":1,"v":-40},{"x":9,"y":1,"v":-26},
{"x":10,"y":1,"v":-31},{"x":11,"y":1,"v":-27},{"x":12,"y":1,"v":-29},{"x":13,"y":1,"v":-25},{"x":14,"y":1,"v":-32},{"x":15,"y":1,"v":-28},{"x":16,"y":1,"v":-30},{"x":17,"y":1,"v":-26},{"x":18,"y":1,"v":-33},{"x":19,"y":1,"v":-29},
{"x":20,"y":1,"v":-27},{"x":21,"y":1,"v":-30},{"x":22,"y":1,"v":-20},{"x":23,"y":1,"v":-28},{"x":24,"y":1,"v":-26},{"x":25,"y":1,"v":-31},{"x":26,"y":1,"v":-29},{"x":27,"y":1,"v":-25},{"x":28,"y":1,"v":-30},{"x":29,"y":1,"v":-27},
{"x":30,"y":1,"v":-38},{"x":31,"y":1,"v":-29},{"x":32,"y":1,"v":-26},{"x":33,"y":1,"v":-31},{"x":34,"y":1,"v":-28},{"x":35,"y":1,"v":-24},{"x":36,"y":1,"v":-30},{"x":37,"y":1,"v":-27},{"x":38,"y":1,"v":-32},{"x":39,"y":1,"v":-28},
{"x":40,"y":1,"v":-29},{"x":41,"y":1,"v":-26},{"x":42,"y":1,"v":-31},{"x":43,"y":1,"v":-27},{"x":44,"y":1,"v":-30},{"x":45,"y":1,"v":-33},{"x":46,"y":1,"v":-28},{"x":47,"y":1,"v":-25},{"x":48,"y":1,"v":-29},{"x":49,"y":1,"v":-31},
{"x":50,"y":1,"v":-30},{"x":51,"y":1,"v":-27},{"x":52,"y":1,"v":-31},{"x":53,"y":1,"v":-25},{"x":54,"y":1,"v":-25},{"x":55,"y":1,"v":-21},{"x":56,"y":1,"v":-17},{"x":57,"y":1,"v":-17},{"x":58,"y":1,"v":-17},{"x":59,"y":1,"v":-13},
{"x":60,"y":1,"v":-13},{"x":61,"y":1,"v":-17},{"x":62,"y":1,"v":-17},{"x":63,"y":1,"v":-17},{"x":64,"y":1,"v":-21},{"x":65,"y":1,"v":-25},{"x":66,"y":1,"v":-25},{"x":67,"y":1,"v":-40},{"x":68,"y":1,"v":-29},{"x":69,"y":1,"v":-26},
{"x":70,"y":1,"v":-30},{"x":71,"y":1,"v":-28},{"x":72,"y":1,"v":-33},{"x":73,"y":1,"v":-26},{"x":74,"y":1,"v":-29},{"x":75,"y":1,"v":-31},{"x":76,"y":1,"v":-27},{"x":77,"y":1,"v":-7},{"x":78,"y":1,"v":-30},{"x":79,"y":1,"v":-25},
{"x":80,"y":1,"v":-29},{"x":81,"y":1,"v":-20},{"x":82,"y":1,"v":-27},{"x":83,"y":1,"v":-30},{"x":84,"y":1,"v":-26},{"x":85,"y":1,"v":-31},{"x":86,"y":1,"v":-28},{"x":87,"y":1,"v":-25},{"x":88,"y":1,"v":-32},{"x":89,"y":1,"v":-29},
{"x":90,"y":1,"v":-27},{"x":91,"y":1,"v":-30},{"x":92,"y":1,"v":-26},{"x":93,"y":1,"v":-33},{"x":94,"y":1,"v":-28},{"x":95,"y":1,"v":-31},{"x":96,"y":1,"v":-29},{"x":97,"y":1,"v":-25},{"x":98,"y":1,"v":-30},{"x":99,"y":1,"v":-27},
{"x":100,"y":1,"v":-32},{"x":101,"y":1,"v":-28},{"x":102,"y":1,"v":-30},{"x":103,"y":1,"v":-26},{"x":104,"y":1,"v":-29},{"x":105,"y":1,"v":-40},{"x":106,"y":1,"v":-27},{"x":107,"y":1,"v":-31},{"x":108,"y":1,"v":-25},{"x":109,"y":1,"v":-30},
{"x":110,"y":1,"v":-29},{"x":111,"y":1,"v":-26},{"x":112,"y":1,"v":-31},{"x":113,"y":1,"v":-28},{"x":114,"y":1,"v":-33},{"x":115,"y":1,"v":-27},{"x":116,"y":1,"v":-30},{"x":117,"y":1,"v":-26},{"x":118,"y":1,"v":-29},{"x":119,"y":1,"v":-31},
{"x":0,"y":0,"v":-31},{"x":1,"y":0,"v":-27},{"x":2,"y":0,"v":-30},{"x":3,"y":0,"v":-26},{"x":4,"y":0,"v":-33},{"x":5,"y":0,"v":-28},{"x":6,"y":0,"v":-25},{"x":7,"y":0,"v":-29},{"x":8,"y":0,"v":-32},{"x":9,"y":0,"v":-27},
{"x":10,"y":0,"v":-29},{"x":11,"y":0,"v":-40},{"x":12,"y":0,"v":-26},{"x":13,"y":0,"v":-30},{"x":14,"y":0,"v":-27},{"x":15,"y":0,"v":-31},{"x":16,"y":0,"v":-25},{"x":17,"y":0,"v":-28},{"x":18,"y":0,"v":-33},{"x":19,"y":0,"v":-30},
{"x":20,"y":0,"v":-26},{"x":21,"y":0,"v":-30},{"x":22,"y":0,"v":-28},{"x":23,"y":0,"v":-33},{"x":24,"y":0,"v":-25},{"x":25,"y":0,"v":-29},{"x":26,"y":0,"v":-31},{"x":27,"y":0,"v":-27},{"x":28,"y":0,"v":-20},{"x":29,"y":0,"v":-28},
{"x":30,"y":0,"v":-30},{"x":31,"y":0,"v":-26},{"x":32,"y":0,"v":-32},{"x":33,"y":0,"v":-28},{"x":34,"y":0,"v":-25},{"x":35,"y":0,"v":-31},{"x":36,"y":0,"v":-29},{"x":37,"y":0,"v":-27},{"x":38,"y":0,"v":-30},{"x":39,"y":0,"v":-33},
{"x":40,"y":0,"v":-27},{"x":41,"y":0,"v":-31},{"x":42,"y":0,"v":-29},{"x":43,"y":0,"v":-25},{"x":44,"y":0,"v":-30},{"x":45,"y":0,"v":-28},{"x":46,"y":0,"v":-39},{"x":47,"y":0,"v":-26},{"x":48,"y":0,"v":-29},{"x":49,"y":0,"v":-31},
{"x":50,"y":0,"v":-28},{"x":51,"y":0,"v":-30},{"x":52,"y":0,"v":-26},{"x":53,"y":0,"v":-32},{"x":54,"y":0,"v":-25},{"x":55,"y":0,"v":-25},{"x":56,"y":0,"v":-21},{"x":57,"y":0,"v":-21},{"x":58,"y":0,"v":-21},{"x":59,"y":0,"v":-17},
{"x":60,"y":0,"v":-17},{"x":61,"y":0,"v":-21},{"x":62,"y":0,"v":-21},{"x":63,"y":0,"v":-21},{"x":64,"y":0,"v":-25},{"x":65,"y":0,"v":-25},{"x":66,"y":0,"v":-39},{"x":67,"y":0,"v":-28},{"x":68,"y":0,"v":-31},{"x":69,"y":0,"v":-27},
{"x":70,"y":0,"v":-29},{"x":71,"y":0,"v":-32},{"x":72,"y":0,"v":-26},{"x":73,"y":0,"v":-30},{"x":74,"y":0,"v":-28},{"x":75,"y":0,"v":-33},{"x":76,"y":0,"v":-27},{"x":77,"y":0,"v":-25},{"x":78,"y":0,"v":-31},{"x":79,"y":0,"v":-29},
{"x":80,"y":0,"v":-26},{"x":81,"y":0,"v":-30},{"x":82,"y":0,"v":-28},{"x":83,"y":0,"v":-41},{"x":84,"y":0,"v":-27},{"x":85,"y":0,"v":-31},{"x":86,"y":0,"v":-25},{"x":87,"y":0,"v":-29},{"x":88,"y":0,"v":-30},{"x":89,"y":0,"v":-26},
{"x":90,"y":0,"v":-20},{"x":91,"y":0,"v":-28},{"x":92,"y":0,"v":-30},{"x":93,"y":0,"v":-27},{"x":94,"y":0,"v":-31},{"x":95,"y":0,"v":-25},{"x":96,"y":0,"v":-29},{"x":97,"y":0,"v":-32},{"x":98,"y":0,"v":-26},{"x":99,"y":0,"v":-30},
{"x":100,"y":0,"v":-28},{"x":101,"y":0,"v":-31},{"x":102,"y":0,"v":-27},{"x":103,"y":0,"v":-29},{"x":104,"y":0,"v":-33},{"x":105,"y":0,"v":-26},{"x":106,"y":0,"v":-30},{"x":107,"y":0,"v":-28},{"x":108,"y":0,"v":-25},{"x":109,"y":0,"v":-31},
{"x":110,"y":0,"v":-29},{"x":111,"y":0,"v":-27},{"x":112,"y":0,"v":-32},{"x":113,"y":0,"v":-30},{"x":114,"y":0,"v":-26},{"x":115,"y":0,"v":-29},{"x":116,"y":0,"v":-31},{"x":117,"y":0,"v":-28},{"x":118,"y":0,"v":-38},{"x":119,"y":0,"v":-27}
]
},
"vconcat":[
{
"width":891,"height":349,
"title":{"text":"(a)","anchor":"start","frame":"group","dx":-132,"offset":-31,"baseline":"middle","fontSize":18,"fontWeight":"normal","color":"#444444"},
"encoding":{"x":{"field":"t","type":"quantitative","scale":{"domain":[0,90],"nice":false},"axis":{"values":[0,10,20,30,40,50,60,70,80,90],"title":"Time in ms","labelPadding":3,"titlePadding":15}}},
"layer":[
{"data":{"name":"bounds"},"mark":{"type":"rule","color":"#555555","strokeWidth":3},"encoding":{}},
{"data":{"name":"sent"},"mark":{"type":"line","interpolate":"monotone","strokeWidth":3},
"encoding":{
"y":{"field":"V","type":"quantitative","scale":{"domain":[-100,100],"nice":false},"axis":{"orient":"left","values":[-100,-75,-50,-25,0,25,50,75,100],"title":"Amplitude in V","titleColor":"#bd1a2b","labelColor":"#bd1a2b","tickColor":"#bd1a2b","labelPadding":8,"titlePadding":20}},
"color":{"datum":"Sent signal","type":"nominal","scale":{"domain":["Sent signal"],"range":["#bd1a2b"]},"legend":{"orient":"none","legendX":0,"legendY":-39,"title":null,"symbolType":"M-1,0H3","symbolSize":400,"symbolStrokeWidth":3,"labelFontSize":15,"labelColor":"#333333","labelOffset":28,"padding":6,"strokeColor":"#cccccc","fillColor":"#ffffff","cornerRadius":4}}
}},
{"data":{"name":"meas"},"mark":{"type":"line","interpolate":"monotone","strokeWidth":3.5,"strokeDash":[14,5,3,5]},
"encoding":{
"y":{"field":"u","type":"quantitative","scale":{"domain":[-5.58,5.58],"nice":false,"zero":false},"axis":{"orient":"right","values":[-4,-2,0,2,4],"title":"Amplitude in µm","titleColor":"#76b82a","labelColor":"#76b82a","tickColor":"#76b82a","labelPadding":6,"titlePadding":16}},
"color":{"datum":"Measured signal","type":"nominal","scale":{"domain":["Measured signal"],"range":["#76b82a"]},"legend":{"orient":"none","legendX":702,"legendY":-39,"title":null,"symbolType":"M-1,0H3","symbolSize":400,"symbolStrokeWidth":3.5,"symbolDash":[12,4,3,4],"labelFontSize":15,"labelColor":"#333333","labelOffset":28,"padding":6,"strokeColor":"#cccccc","fillColor":"#ffffff","cornerRadius":4}}
}},
{"data":{"name":"segs"},"mark":{"type":"text","fontSize":20,"color":"#555555","baseline":"middle","align":"center"},
"encoding":{"text":{"field":"label"},"y":{"datum":85.5,"type":"quantitative","scale":{"domain":[-100,100],"nice":false},"axis":null}}},
{"data":{"name":"segs"},"mark":{"type":"text","fontSize":19,"fontStyle":"italic","color":"#555555","baseline":"middle","align":"right","dx":-37,"text":"T"},
"encoding":{"y":{"datum":-77.5,"type":"quantitative","scale":{"domain":[-100,100],"nice":false},"axis":null}}},
{"data":{"name":"segs"},"mark":{"type":"text","fontSize":19,"color":"#555555","baseline":"middle","align":"left","dx":-34},
"encoding":{"text":{"field":"Tv"},"y":{"datum":-77.5,"type":"quantitative","scale":{"domain":[-100,100],"nice":false},"axis":null}}},
{"data":{"name":"segs"},"mark":{"type":"text","fontSize":19,"fontStyle":"italic","color":"#555555","baseline":"middle","align":"right","dx":-39,"text":"f"},
"encoding":{"y":{"datum":-89.2,"type":"quantitative","scale":{"domain":[-100,100],"nice":false},"axis":null}}},
{"data":{"name":"segs"},"mark":{"type":"text","fontSize":19,"color":"#555555","baseline":"middle","align":"left","dx":-35},
"encoding":{"text":{"field":"fv"},"y":{"datum":-89.2,"type":"quantitative","scale":{"domain":[-100,100],"nice":false},"axis":null}}}
],
"resolve":{"scale":{"y":"independent","color":"independent"},"axis":{"y":"independent"},"legend":{"color":"independent"}}
},
{
"width":889,"height":110,
"title":{"text":"(b)","anchor":"start","frame":"group","dx":-132,"offset":-29,"baseline":"middle","fontSize":18,"fontWeight":"normal","color":"#444444"},
"layer":[
{"data":{"name":"cells"},"mark":{"type":"rect","width":{"band":1.06},"height":{"band":1.06}},
"encoding":{
"x":{"field":"x","type":"ordinal","scale":{"paddingInner":0,"paddingOuter":0},"axis":{"orient":"bottom","values":[0,3,6,9,12,15,18,21,24,27,30,33,36,39,42,45,48,51,54,57,60,63,66,69,72,75,78,81,84,87,90,93,96,99,102,105,108,111,114,117],"bandPosition":0,"labels":false,"tickSize":4,"tickWidth":1.5,"title":null}},
"y":{"field":"y","type":"ordinal","sort":"descending","scale":{"paddingInner":0,"paddingOuter":0},"axis":{"orient":"left","values":[3,6,9,12],"bandPosition":1,"labels":false,"tickSize":4,"tickWidth":1.5,"title":null}},
"color":{"field":"v","type":"quantitative","scale":{"domain":[-42,-37.33,-32.67,-28,-23.33,-18.67,-14,-9.33,-4.67,0],"range":["#011959","#10385f","#1c5460","#3c6d56","#687b3e","#9d892b","#d29343","#f8a17b","#fdb7bc","#faccfa"],"interpolate":"rgb","clamp":true},
"legend":{"type":"gradient","orient":"none","direction":"horizontal","legendX":219,"legendY":596,"gradientLength":443,"gradientThickness":19,"gradientStrokeColor":"#555555","gradientStrokeWidth":3,"title":"Amplitude RMS in dB","titleLimit":800,"titleOrient":"bottom","titleAnchor":"middle","titleFontSize":26,"titleFontWeight":"normal","titleColor":"#444444","titlePadding":6,"labelFontSize":18,"labelColor":"#444444","labelOffset":12,"labelAlign":"center","labelOverlap":false,"values":[-40,-30,-20,-10,0],"padding":0}}
}},
{"data":{"values":[{}]},"mark":{"type":"point","opacity":0},
"encoding":{
"x":{"datum":0,"type":"quantitative","scale":{"domain":[0,200],"nice":false},"axis":{"orient":"bottom","values":[0,25,50,75,100,125,150,175,200],"tickSize":8,"tickWidth":2.5,"labelPadding":3,"title":"in mm","titleX":846,"titleY":59,"titleAlign":"center","titleBaseline":"middle"}},
"y":{"datum":0,"type":"quantitative","scale":{"domain":[0,25],"nice":false},"axis":{"orient":"left","values":[0,25],"tickSize":7,"tickWidth":2.5,"labelPadding":8,"title":null}}
}}
],
"resolve":{"scale":{"x":"independent","y":"independent"},"axis":{"x":"independent","y":"independent"}}
}
]
}
